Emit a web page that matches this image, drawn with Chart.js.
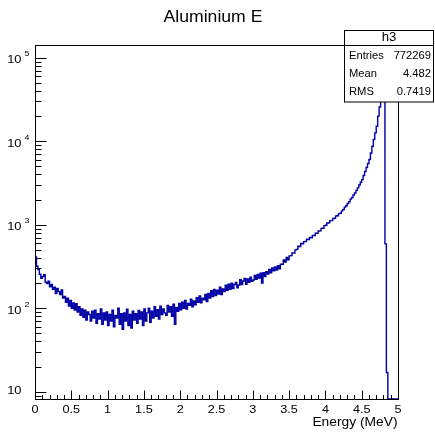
<!DOCTYPE html>
<html><head><meta charset="utf-8">
<script src="https://cdn.jsdelivr.net/npm/chart.js@4/dist/chart.umd.min.js"></script>
<style>html,body{margin:0;padding:0;background:#fff;overflow:hidden}</style>
</head><body>
<canvas id="c" width="435" height="432"></canvas>
<script>
// ---- data ----
const chartTitle = "Aluminium E";
const xAxisTitle = "Energy (MeV)";
const binStart = 0;
const binWidth = 0.02;
const counts = [
  410, 318, 290, 255, 228, 240, 252, 205, 198, 210,
  180, 192, 168, 178, 150, 172, 158, 146, 165, 132,
  138, 118, 132, 106, 124, 100, 116, 95, 113, 90,
  104, 82, 98, 78, 95, 72, 90, 84, 70, 92,
  76, 95, 66, 86, 74, 98, 64, 88, 72, 90,
  62, 84, 70, 95, 60, 82, 76, 100, 64, 86,
  56, 88, 70, 97, 62, 84, 58, 92, 72, 86,
  66, 94, 74, 90, 62, 98, 70, 88, 100, 68,
  92, 76, 104, 80, 96, 74, 106, 84, 98, 88,
  82, 108, 90, 104, 80, 112, 64, 102, 92, 114,
  96, 118, 100, 124, 98, 114, 108, 128, 104, 122,
  110, 134, 118, 140, 116, 132, 126, 146, 120, 150,
  132, 162, 138, 168, 142, 164, 148, 178, 146, 170,
  158, 188, 164, 194, 168, 200, 172, 192, 204, 176,
  190, 220, 192, 212, 228, 194, 224, 204, 236, 210,
  218, 246, 222, 254, 230, 262, 200, 266, 240, 274,
  256, 292, 266, 304, 280, 312, 286, 322, 296, 336,
  336, 378, 358, 406, 380, 424, 426, 458, 458, 500,
  506, 554, 548, 596, 590, 628, 630, 672, 662, 706,
  696, 746, 744, 794, 790, 842, 844, 904, 906, 974,
  984, 1050, 1054, 1118, 1118, 1186, 1194, 1274, 1278, 1358,
  1372, 1466, 1520, 1624, 1690, 1796, 1880, 2024, 2120, 2270,
  2400, 2580, 2760, 2990, 3230, 3470, 3880, 4330, 4840, 5400,
  6030, 7240, 8710, 10470, 12600, 15100, 19950, 25700, 34700, 62000,
  150000, 590, 17, 0, 0, 0, 0, 0, 0, 0
];
const xMin = 0, xMax = 5;
const yMin = 8.18, yMax = 142000;
const xTickValues = [0, 0.5, 1, 1.5, 2, 2.5, 3, 3.5, 4, 4.5, 5];
const xTickLabels = ["0", "0.5", "1", "1.5", "2", "2.5", "3", "3.5", "4", "4.5", "5"];
const yDecadeValues = [10, 100, 1000, 10000, 100000];
const yDecadeExps = ["", "2", "3", "4", "5"];
const statsName = "h3";
const statsLabels = ["Entries", "Mean", "RMS"];
const statsValues = ["772269", "4.482", "0.7419"];

// ---- histogram points (bin low edges + closing edge); empty bins sit on the axis floor like ROOT ----
const points = counts.map((v, i) => ({ x: binStart + i * binWidth, y: v > 0 ? v : yMin }));
points.push({ x: binStart + counts.length * binWidth, y: points[points.length - 1].y });

const FONT = '"Liberation Sans", Arial, Helvetica, sans-serif';
function txt(ctx, s, x, y, size, align, sx) {
  ctx.save();
  ctx.font = size + 'px ' + FONT;
  ctx.textBaseline = 'middle';
  ctx.textAlign = align;
  ctx.translate(x, y);
  ctx.scale(sx, 1);
  ctx.fillText(s, 0, 0);
  ctx.restore();
}

const rootFrame = {
  id: 'rootFrame',
  afterDraw(chart) {
    const ctx = chart.ctx, xs = chart.scales.x, ys = chart.scales.y, a = chart.chartArea;
    ctx.save();
    ctx.fillStyle = '#000';
    ctx.strokeStyle = '#000';
    ctx.lineWidth = 1;
    const L = Math.round(a.left) + 0.5, R = Math.round(a.right) + 0.5;
    const T = Math.round(a.top) + 0.5, B = Math.round(a.bottom) + 0.5;
    ctx.strokeRect(L, T, R - L, B - T);
    ctx.beginPath();
    for (let i = 0; i <= 50; i++) {
      const v = xMin + i * 0.1;
      const px = Math.round(xs.getPixelForValue(v)) + 0.5;
      const len = (i % 5 === 0) ? 9 : 4.5;
      ctx.moveTo(px, B); ctx.lineTo(px, B - len);
    }
    for (let k = 0; k <= 5; k++) {
      for (let m = 1; m <= 9; m++) {
        const v = m * Math.pow(10, k);
        if (v < yMin || v > yMax) continue;
        const py = Math.round(ys.getPixelForValue(v)) + 0.5;
        const len = (m === 1) ? 11 : 6;
        ctx.moveTo(L, py); ctx.lineTo(L + len, py);
      }
    }
    ctx.stroke();
    xTickValues.forEach((v, i) => {
      txt(ctx, xTickLabels[i], xs.getPixelForValue(v), 410, 11, 'center', 1.15);
    });
    yDecadeValues.forEach((v, i) => {
      const py = ys.getPixelForValue(v);
      if (yDecadeExps[i] === "") {
        txt(ctx, "10", 21.5, py - 0.5, 11.5, 'right', 1.12);
      } else {
        txt(ctx, "10", 21.5, py + 2.5, 11.5, 'right', 1.12);
        txt(ctx, yDecadeExps[i], 24.5, py - 3.5, 8, 'left', 1.1);
      }
    });
    txt(ctx, xAxisTitle, 397.5, 423, 12, 'right', 1.15);
    txt(ctx, chartTitle, 213, 18, 16, 'center', 1.1);
    ctx.fillStyle = '#fff';
    ctx.fillRect(344.5, 30.5, 89, 71.5);
    ctx.strokeRect(344.5, 30.5, 89, 71.5);
    ctx.beginPath(); ctx.moveTo(344.5, 45.5); ctx.lineTo(433.5, 45.5); ctx.stroke();
    ctx.fillStyle = '#000';
    txt(ctx, statsName, 389, 38, 12, 'center', 1.1);
    const rowY = [56.5, 74.5, 92.5];
    statsLabels.forEach((s, i) => {
      txt(ctx, s, 349, rowY[i], 10, 'left', 1.12);
      txt(ctx, statsValues[i], 431, rowY[i], 10, 'right', 1.12);
    });
    ctx.restore();
  }
};

new Chart(document.getElementById('c'), {
  type: 'line',
  data: {
    datasets: [{
      data: points,
      stepped: 'before',
      borderColor: 'rgb(0,0,165)',
      borderWidth: 1.4,
      pointRadius: 0,
      fill: false,
      tension: 0
    }]
  },
  options: {
    responsive: false,
    animation: false,
    devicePixelRatio: 1,
    events: [],
    layout: { padding: { left: 35, right: 37, top: 45, bottom: 33 } },
    plugins: { legend: { display: false }, tooltip: { enabled: false }, title: { display: false } },
    scales: {
      x: { type: 'linear', min: xMin, max: xMax, display: false },
      y: { type: 'logarithmic', min: yMin, max: yMax, display: false }
    }
  },
  plugins: [rootFrame]
});
</script>
</body></html>
